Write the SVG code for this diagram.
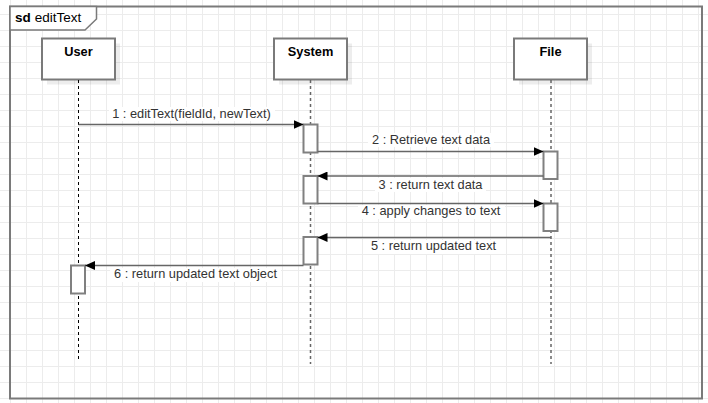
<svg xmlns="http://www.w3.org/2000/svg" width="708" height="403" viewBox="0 0 708 403">
  <style>
    .lbl { font-family: "Liberation Sans", Arial, sans-serif; font-size: 12.8px; fill: #333; text-anchor: middle; }
    .head { font-family: "Liberation Sans", Arial, sans-serif; font-size: 12.8px; font-weight: bold; fill: #000; text-anchor: middle; }
    .box { fill: #fff; stroke: #7a7a7a; stroke-width: 2; }
    .shadow { fill: #000; opacity: 0.07; }
    .act { fill: #fff; stroke: #808080; stroke-width: 2; }
    .life { fill: none; stroke: #666; stroke-width: 1.5; stroke-dasharray: 3 3; }
    .life-user { fill: none; stroke: #000; stroke-width: 1; stroke-dasharray: 3 3; }
    .msg { fill: none; stroke: #666; stroke-width: 1.5; marker-end: url(#arrow); }
    .bg { fill: #fff; }
  </style>
  <defs>
    <pattern id="grid" x="10" y="14" width="16" height="16" patternUnits="userSpaceOnUse">
      <path d="M0.5 0V16M0 0.5H16" fill="none" stroke="#ececec" stroke-width="1"/>
    </pattern>
    <marker id="arrow" markerWidth="11" markerHeight="9" refX="10" refY="4.5" orient="auto" markerUnits="userSpaceOnUse">
      <path d="M0 0L10 4.5L0 9Z" fill="#000"/>
    </marker>
  </defs>

  <!-- background grid -->
  <rect width="708" height="403" fill="#fff"/>
  <rect width="708" height="403" fill="url(#grid)"/>

  <!-- interaction frame -->
  <g id="frame">
    <rect x="10" y="6.5" width="692" height="392" fill="none" stroke="#7a7a7a" stroke-width="2"/>
    <path d="M10 6.5H96.5V19L85 30H10Z" fill="#fff" stroke="#7a7a7a" stroke-width="1.5"/>
    <text x="15" y="22" font-family="'Liberation Sans', Arial, sans-serif" font-size="13.5" fill="#000"><tspan font-weight="bold">sd</tspan><tspan dx="4">editText</tspan></text>
  </g>

  <!-- lifelines -->
  <g id="user">
    <rect class="shadow" x="47" y="43.5" width="73" height="41"/>
    <rect class="box" x="42" y="38.5" width="73" height="41"/>
    <text class="head" x="78.5" y="56">User</text>
    <line class="life-user" x1="78.5" y1="80" x2="78.5" y2="359"/>
  </g>
  <g id="system">
    <rect class="shadow" x="279" y="43.5" width="73" height="41"/>
    <rect class="box" x="274" y="38.5" width="73" height="41"/>
    <text class="head" x="310.5" y="56">System</text>
    <line class="life" x1="310.5" y1="80" x2="310.5" y2="364"/>
  </g>
  <g id="file">
    <rect class="shadow" x="519" y="43.5" width="73" height="41"/>
    <rect class="box" x="514" y="38.5" width="73" height="41"/>
    <text class="head" x="550.5" y="56">File</text>
    <line class="life" x1="551" y1="80" x2="551" y2="364"/>
  </g>

  <!-- activation bars -->
  <g id="activations">
    <rect class="act" x="303.5" y="124.5" width="14" height="28"/>
    <rect class="act" x="543.5" y="151.5" width="14" height="27.5"/>
    <rect class="act" x="303.5" y="176" width="14" height="27.5"/>
    <rect class="act" x="543.5" y="203.5" width="14" height="27.5"/>
    <rect class="act" x="303.5" y="237" width="14" height="27.5"/>
    <rect class="act" x="71" y="265.5" width="14" height="28"/>
  </g>

  <!-- messages -->
  <g id="connectors">
    <line class="msg" x1="78.5" y1="124.5" x2="303.5" y2="124.5"/>
    <line class="msg" x1="317.5" y1="151.5" x2="543.5" y2="151.5"/>
    <line class="msg" x1="543.5" y1="176" x2="317.5" y2="176"/>
    <line class="msg" x1="317.5" y1="203.5" x2="543.5" y2="203.5"/>
    <line class="msg" x1="551" y1="237.5" x2="317.5" y2="237.5"/>
    <line class="msg" x1="303.5" y1="265.5" x2="85" y2="265.5"/>

    <rect class="bg" x="109" y="107" width="166" height="14"/>
    <text class="lbl" x="191.5" y="118">1 : editText(fieldId, newText)</text>
    <rect class="bg" x="368" y="133" width="126" height="14"/>
    <text class="lbl" x="431" y="144">2 : Retrieve text data</text>
    <rect class="bg" x="375" y="178" width="111" height="14"/>
    <text class="lbl" x="430.5" y="189">3 : return text data</text>
    <rect class="bg" x="358" y="205" width="147" height="14"/>
    <text class="lbl" x="431" y="215">4 : apply changes to text</text>
    <rect class="bg" x="367" y="240" width="134" height="14"/>
    <text class="lbl" x="433.5" y="250">5 : return updated text</text>
    <rect class="bg" x="110" y="268" width="171" height="14"/>
    <text class="lbl" x="195.5" y="278">6 : return updated text object</text>
  </g>
</svg>
